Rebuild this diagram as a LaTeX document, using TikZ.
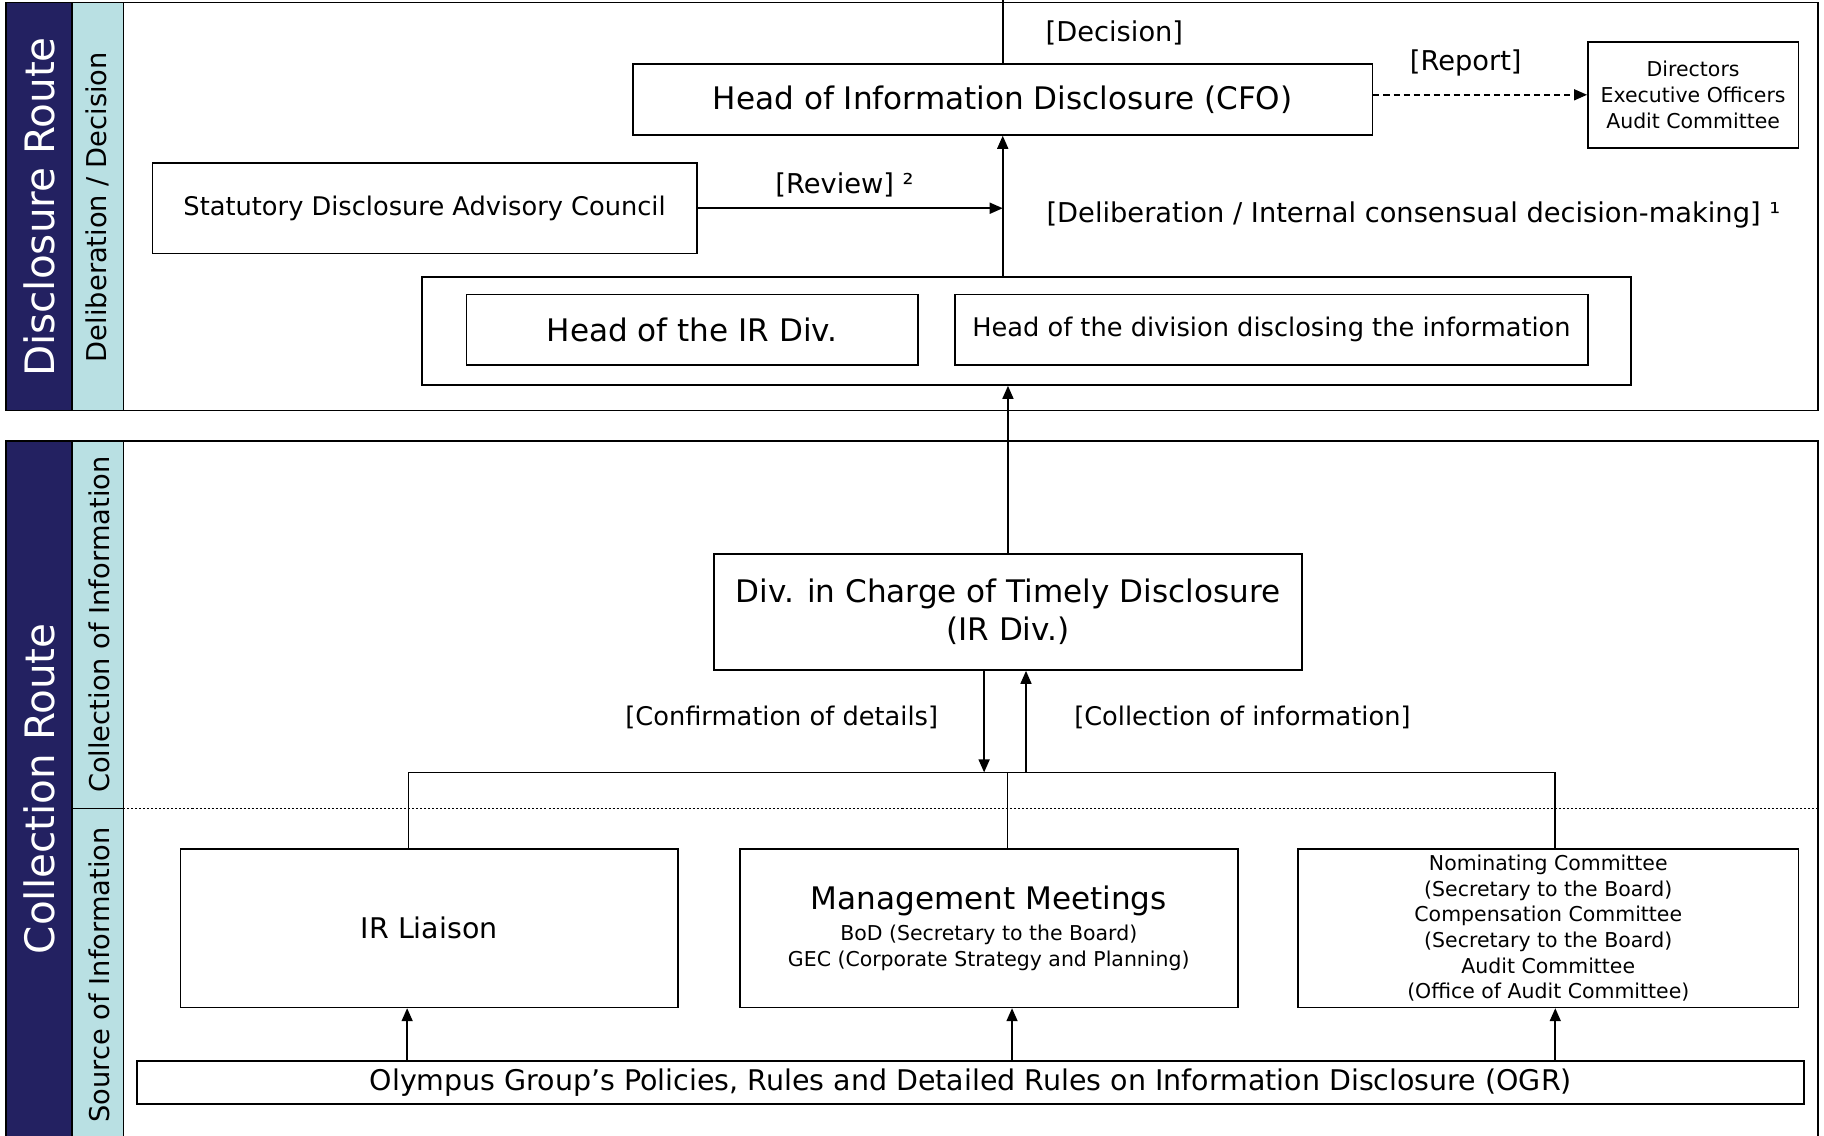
\documentclass[tikz,border=0pt]{standalone}
\usepackage{fontspec}
\setmainfont{DejaVu Sans}
\usetikzlibrary{arrows.meta}
\definecolor{routeblue}{RGB}{35,33,97}
\definecolor{stagecyan}{RGB}{185,224,227}
\newcommand{\routesz}{\fontsize{20.2pt}{24pt}\selectfont}
\newcommand{\stagesz}{\fontsize{13.6pt}{16pt}\selectfont}
\newcommand{\bigsz}{\fontsize{15.5pt}{19pt}\selectfont}
\newcommand{\liaisz}{\fontsize{14.2pt}{17pt}\selectfont}
\newcommand{\midsz}{\fontsize{12.8pt}{15pt}\selectfont}
\newcommand{\ogrsz}{\fontsize{14.2pt}{17pt}\selectfont}
\newcommand{\tagsz}{\fontsize{13.6pt}{16pt}\selectfont}
\newcommand{\notesz}{\fontsize{12.8pt}{15pt}\selectfont}
\newcommand{\smallsz}{\fontsize{10.2pt}{12.8pt}\selectfont}
\begin{document}
\begin{tikzpicture}[x=0.58pt, y=-0.58pt, >={Triangle[length=6.5pt,width=5.5pt]}, line width=0.8pt]
    \tikzstyle{box}=[rectangle,draw,inner sep=0pt,align=center]
    \tikzstyle{route}=[rotate=90,text=white,font=\routesz]
    \tikzstyle{stage}=[rotate=90,font=\stagesz]
    \tikzstyle{tag}=[inner sep=0pt,font=\tagsz]
    \useasboundingbox (0,0) rectangle (1568,976);
    % disclosure route frame
    \fill[routeblue] (5,2) rectangle (62,353);
    \fill[stagecyan] (62,2) rectangle (106,353);
    \draw (5,2) rectangle (1563,353);
    \draw (62,2) -- (62,353) (106,2) -- (106,353);
    \node[route] (discroute) at (34,178) {Disclosure Route};
    \node[stage] (delib) at (84,178) {Deliberation / Decision};
    % collection route frame
    \fill[routeblue] (5,379) rectangle (62,990);
    \fill[stagecyan] (62,379) rectangle (106,990);
    \draw (5,379) rectangle (1563,990);
    \draw (62,379) -- (62,990) (106,379) -- (106,990) (62,695) -- (106,695);
    \draw[line width=0.5pt,dash pattern=on 1pt off 1pt] (106,695) -- (1563,695);
    \node[route] (collroute) at (34,678) {Collection Route};
    \node[stage] (collinfo) at (85,537) {Collection of Information};
    \node[stage] (srcinfo) at (85,838) {Source of Information};

    \node[box,minimum width=636*0.58pt,minimum height=61*0.58pt,font=\bigsz] (cfo) at (862,85.5) {Head of Information Disclosure (CFO)};
    \node[box,minimum width=181*0.58pt,minimum height=91*0.58pt,font=\smallsz] (board) at (1455.5,81.5) {Directors\\Executive Officers\\Audit Committee};
    \node[box,minimum width=468*0.58pt,minimum height=78*0.58pt,font=\midsz] (council) at (365,179) {Statutory Disclosure Advisory Council};
    \node[box,minimum width=1039*0.58pt,minimum height=93*0.58pt] (heads) at (882.5,284.5) {};
    \node[box,minimum width=388*0.58pt,minimum height=61*0.58pt,font=\bigsz] (irhead) at (595,283.5) {Head of the IR Div.};
    \node[box,minimum width=544*0.58pt,minimum height=61*0.58pt,font=\midsz] (divhead) at (1093,283.5) {Head of the division disclosing the information};
    \node[box,minimum width=505*0.58pt,minimum height=100*0.58pt,font=\bigsz] (timely) at (866.5,526) {Div. in Charge of Timely Disclosure\\(IR Div.)};
    \node[box,minimum width=428*0.58pt,minimum height=136*0.58pt,font=\liaisz] (liaison) at (369,798) {IR Liaison};
    \node[box,minimum width=428*0.58pt,minimum height=136*0.58pt,font=\smallsz] (meetings) at (850,798) {{\bigsz Management Meetings}\\[3pt]BoD (Secretary to the Board)\\GEC (Corporate Strategy and Planning)};
    \node[box,minimum width=430*0.58pt,minimum height=136*0.58pt,font=\smallsz] (committees) at (1331,798) {Nominating Committee\\(Secretary to the Board)\\Compensation Committee\\(Secretary to the Board)\\Audit Committee\\(Office of Audit Committee)};
    \node[box,minimum width=1433*0.58pt,minimum height=37*0.58pt,font=\ogrsz] (ogr) at (834.5,930.5) {Olympus Group’s Policies, Rules and Detailed Rules on Information Disclosure (OGR)};

    % disclosure connectors
    \coordinate (dectop) at (862,0);
    \draw (cfo.north) -- (dectop);
    \node[tag] (decision) at (958,28) {[Decision]};
    \path[->,dash pattern=on 3pt off 2pt](cfo.east |- board.west)edge(board.west);
    \node[tag] (report) at (1260,54) {[Report]};
    \path[->](council.east)edge(council.east -| cfo.south);
    \node[tag] (review) at (726,159) {[Review] ²};
    \path[->](cfo.south |- heads.north)edge(cfo.south);
    \node[tag,anchor=west] (deliberation) at (899,185) {[Deliberation / Internal consensual decision-making] ¹};
    \path[->](timely.north)edge(timely.north |- heads.south);

    % collection connectors
    \coordinate (busL) at (351,664);
    \coordinate (busM) at (866,664);
    \coordinate (busR) at (1337,664);
    \coordinate (down) at (846,664);
    \coordinate (up) at (882,664);
    \path[->](timely.south -| down)edge(down);
    \path[->](up)edge(timely.south -| up);
    \node[tag,font=\notesz] (confirm) at (672,617) {[Confirmation of details]};
    \node[tag,font=\notesz] (collect) at (1068,617) {[Collection of information]};
    \draw (liaison.north -| busL) -- (busL) -- (busR) -- (committees.north -| busR);
    \draw (busM) -- (meetings.north -| busM);
    \foreach \x/\b in {350/liaison,870/meetings,1337/committees}{
      \coordinate (feed) at (\x,912);
      \path[->](feed)edge(\b.south -| feed);
    }
  \end{tikzpicture}
\end{document}
